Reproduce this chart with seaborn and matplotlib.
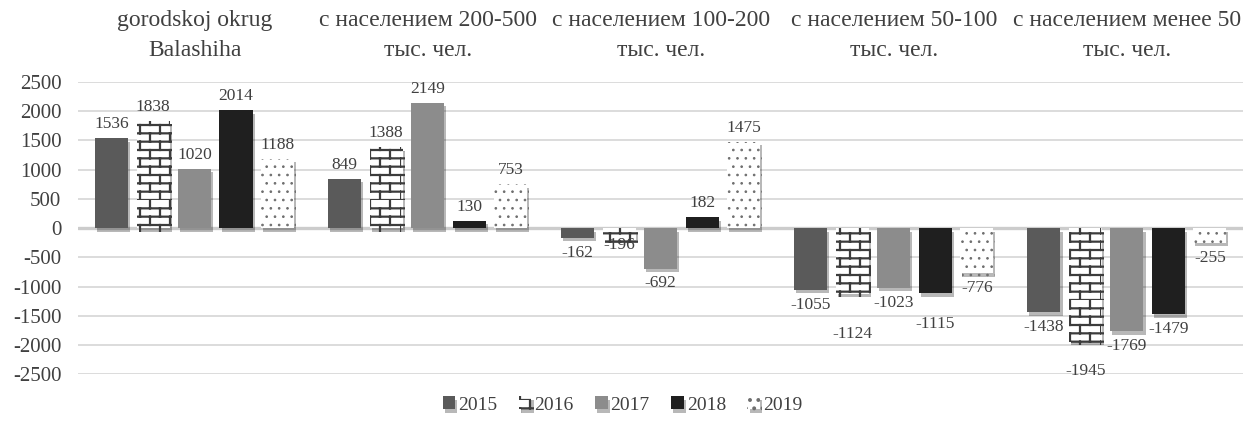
import warnings
import numpy as np
import pandas as pd
import matplotlib
matplotlib.use("Agg")
import matplotlib.pyplot as plt
import matplotlib.hatch as mhatch
import matplotlib.patheffects as pe
from matplotlib.path import Path
import seaborn as sns

warnings.filterwarnings("ignore")

# ---------------- data ----------------
categories = [
    "gorodskoj okrug\nBalashiha",
    "с населением 200-500\nтыс. чел.",
    "с населением 100-200\nтыс. чел.",
    "с населением 50-100\nтыс. чел.",
    "с населением менее 50\nтыс. чел.",
]
years = ["2015", "2016", "2017", "2018", "2019"]
v2015 = [1536, 849, -162, -1055, -1438]
v2016 = [1838, 1388, -196, -1124, -1945]
v2017 = [1020, 2149, -692, -1023, -1769]
v2018 = [2014, 130, 182, -1115, -1479]
v2019 = [1188, 753, 1475, -776, -255]
yticks = [-2500, -2000, -1500, -1000, -500, 0, 500, 1000, 1500, 2000, 2500]

series = {"2015": v2015, "2016": v2016, "2017": v2017, "2018": v2018, "2019": v2019}

# ---------------- styles ----------------
fills = {"2015": "#5a5a5a", "2016": "#ffffff", "2017": "#8c8c8c", "2018": "#1f1f1f", "2019": "#ffffff"}
hatches = {"2016": "BB", "2019": ".."}
hatch_cols = {"2016": "#3c3c3c", "2019": "#6e6e6e"}
hatch_lw = {"2016": 1.6, "2019": 0.7}
# manual label nudges in pixels (positive = downward)
nudge_px = {(2, "2016"): -9, (3, "2016"): 25, (3, "2018"): 16, (4, "2016"): 14}


# custom brick hatch
class BrickHatch(mhatch.HatchPatternBase):
    def __init__(self, hatch, density):
        self.num_rows = int(hatch.count("B") * density)
        self.num_cols = max(int(self.num_rows / 2.4), 1) if self.num_rows else 0
        self.num_vertices = 2 * self.num_rows + 2 * self.num_rows * self.num_cols

    def set_vertices_and_codes(self, vertices, codes):
        n, m = self.num_rows, self.num_cols
        k = 0
        for i in range(n):
            y0 = i / n
            vertices[k] = (0.0, y0)
            vertices[k + 1] = (1.0, y0)
            codes[k] = Path.MOVETO
            codes[k + 1] = Path.LINETO
            k += 2
            shift = 0.5 / m if i % 2 else 0.0
            for j in range(m):
                x = j / m + shift
                vertices[k] = (x, y0)
                vertices[k + 1] = (x, y0 + 1.0 / n)
                codes[k] = Path.MOVETO
                codes[k + 1] = Path.LINETO
                k += 2


mhatch._hatch_types.append(BrickHatch)
mhatch._validate_hatch_pattern = lambda h: None

# ---------------- plot ----------------
sns.set_theme(style="white")
plt.rcParams["font.family"] = ["Liberation Serif", "DejaVu Serif"]
plt.rcParams["hatch.linewidth"] = 1.6
text_col = "#404040"

rows = []
for y in years:
    for c, v in zip(categories, series[y]):
        rows.append({"category": c, "year": y, "value": v})
df = pd.DataFrame(rows)

fig = plt.figure(figsize=(12.45, 4.32), dpi=100)
ax = fig.add_axes([0.0627, 0.134, 0.936, 0.676])

sns.barplot(data=df, x="category", y="value", hue="year", order=categories,
            hue_order=years, palette=[fills[y] for y in years], saturation=1,
            width=0.89, gap=0.2, legend=False, ax=ax, zorder=3)

shadow = [pe.SimplePatchShadow(offset=(1.5, -2.5), shadow_rgbFace="black", alpha=0.28), pe.Normal()]
for cont, y in zip(ax.containers, years):
    for i, p in enumerate(cont.patches):
        p.set_linewidth(0)
        if y in hatches:
            p.set_hatch(hatches[y])
            p.set_edgecolor(hatch_cols[y])
            if hasattr(p, "set_hatch_linewidth"):
                p.set_hatch_linewidth(hatch_lw[y])
        else:
            p.set_edgecolor(fills[y])
        p.set_path_effects(shadow)
        v = series[y][i]
        cx = p.get_x() + p.get_width() / 2
        extra = nudge_px.get((i, y), 0) * 0.72
        if v >= 0:
            ax.annotate(str(v), xy=(cx, v), xytext=(0, 7.2 - extra), textcoords="offset points",
                        ha="center", va="baseline", fontsize=12.5, color=text_col, zorder=5)
        else:
            ax.annotate(str(v), xy=(cx, v), xytext=(0, -5 - extra), textcoords="offset points",
                        ha="center", va="top", fontsize=12.5, color=text_col, zorder=5)

ax.set_ylim(-2500, 2500)
ax.set_yticks(yticks)
ax.set_yticklabels([str(t) for t in yticks])
ax.yaxis.grid(True, color="#d9d9d9", linewidth=1.3, zorder=0)
ax.xaxis.grid(False)
ax.axhline(0, color="#cccccc", linewidth=2.4, zorder=1)
ax.set_axisbelow(True)
for s in ax.spines.values():
    s.set_visible(False)

ax.xaxis.tick_top()
ax.tick_params(axis="x", length=0, pad=15, labelsize=17, labelcolor=text_col)
ax.tick_params(axis="y", length=0, pad=12, labelsize=15, labelcolor=text_col)
for lab in ax.get_xticklabels():
    lab.set_linespacing(1.6)
ax.set_xlabel("")
ax.set_ylabel("")

leg = fig.legend(handles=list(ax.containers), labels=years, loc="center",
                 bbox_to_anchor=(0.5, 0.0625), ncol=5, frameon=False,
                 handlelength=0.65, handleheight=0.65, handletextpad=0.15,
                 columnspacing=1.1, fontsize=14)
for t in leg.get_texts():
    t.set_color(text_col)

fig.savefig("out.png", dpi=100)
